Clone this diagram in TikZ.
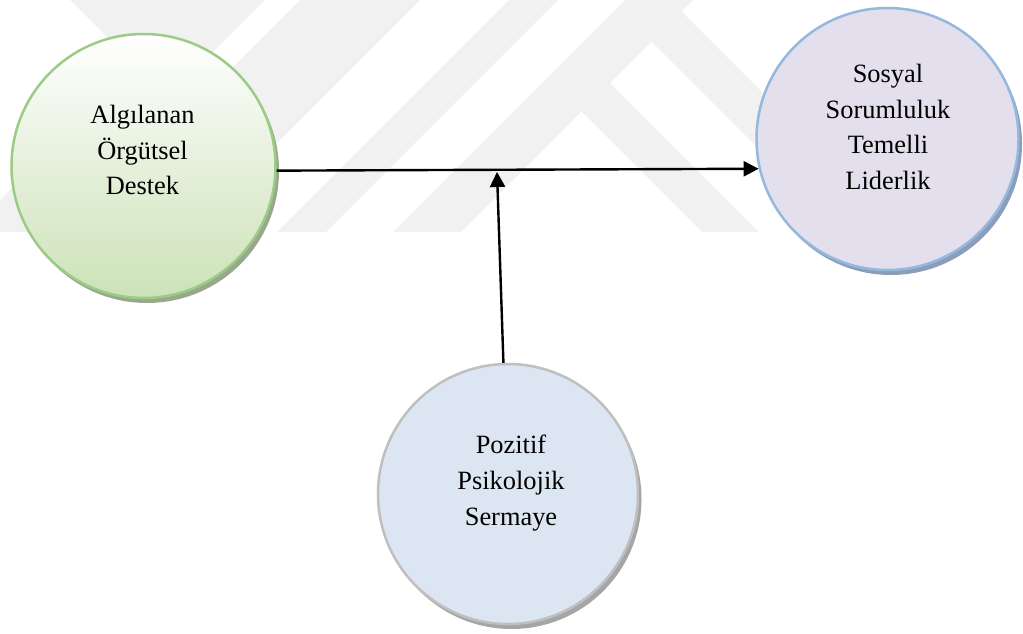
\documentclass[tikz,border=0pt]{standalone}
\usepackage{fontspec}
\setmainfont{Liberation Serif}
\usetikzlibrary{arrows.meta,shadows}

\definecolor{grline}{HTML}{9CCB86}
\definecolor{grfill}{HTML}{CCE2B8}
\definecolor{grshadow}{HTML}{97A88B}
\definecolor{lvline}{HTML}{95B8DD}
\definecolor{lvfill}{HTML}{E4DFEC}
\definecolor{lvshadow}{HTML}{8A9EBB}
\definecolor{blline}{HTML}{BFBFBF}
\definecolor{blfill}{HTML}{DCE6F2}
\definecolor{blshadow}{HTML}{A5A5A5}
\definecolor{wm}{HTML}{F1F1F1}

\begin{document}
\begin{tikzpicture}[x=1pt,y=-1pt,
  bubble/.style={circle, inner sep=0pt, line width=2.5pt},
  shade-green/.style={draw=grline, top color=white, bottom color=grfill,
    drop shadow={shadow xshift=3.5pt, shadow yshift=-5pt, fill=grshadow, opacity=1}},
  shade-lav/.style={draw=lvline, fill=lvfill,
    drop shadow={shadow xshift=3.5pt, shadow yshift=-5pt, fill=lvshadow, opacity=1}},
  shade-blue/.style={draw=blline, fill=blfill,
    drop shadow={shadow xshift=3.5pt, shadow yshift=-5pt, fill=blshadow, opacity=1}},
  label-text/.style={align=center, inner sep=0pt, anchor=north,
    font=\fontsize{26.4}{35.7}\selectfont},
  link/.style={line width=2.4pt, -{Triangle[length=15pt,width=15pt]}}]

\useasboundingbox (0,0) rectangle (1023,634);

% faint background emblem
\begin{scope}
  \clip (0,0) rectangle (1023,232);
  \fill[wm] (70,0) -- (200,0) -- (135,65) -- cycle;
  \fill[wm] (200,0) -- (265,0) -- (33,232) -- (-32,232) -- cycle;
  \fill[wm] (300,0) -- (420,0) -- (188,232) -- (68,232) -- cycle;
  \fill[wm] (509,0) -- (558,0) -- (326,232) -- (277,232) -- cycle;
  \fill[wm] (625,0) -- (693,0) -- (461,232) -- (393,232) -- cycle;
  \fill[wm] (677.5,7.5) -- (902,232) -- (842,232) -- (647.5,37.5) -- cycle;
  \fill[wm] (606,79) -- (759,232) -- (702,232) -- (577.5,107.5) -- cycle;
\end{scope}

% the three constructs
\node[bubble, shade-green, minimum size=264pt] (aos) at (143.5,166) {};
\node[bubble, shade-lav,   minimum size=262pt] (ssl) at (887.5,139) {};
\node[bubble, shade-blue,  minimum size=260pt] (pps) at (508,494) {};

\node[label-text] (aostext) at (142.5,105) {Algılanan\\Örgütsel\\Destek};
\node[label-text] (ssltext) at (888,64) {Sosyal\\Sorumluluk\\Temelli\\Liderlik};
\node[label-text] (ppstext) at (511,435) {Pozitif\\Psikolojik\\Sermaye};

% main effect and moderating path
\coordinate (meet) at (497,172);
\draw[link] (aos.-2) -- (ssl.193.5);
\draw[link] (pps.92) -- (meet);

\end{tikzpicture}
\end{document}
